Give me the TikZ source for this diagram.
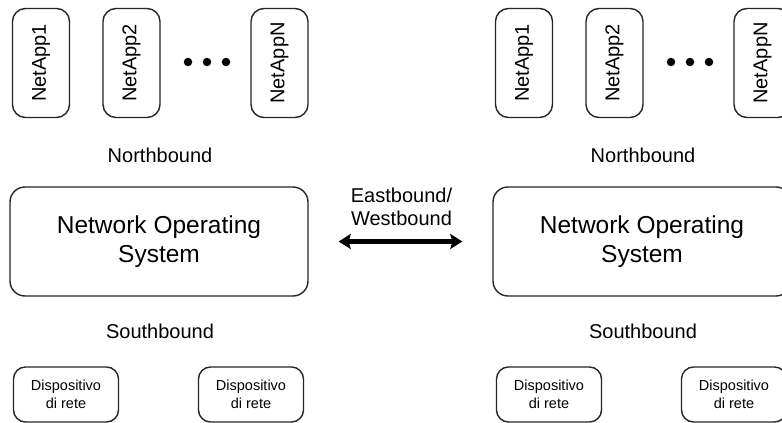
\documentclass[tikz,border=0pt]{standalone}
\usepackage{fontspec}
\setmainfont{Liberation Sans}
\usetikzlibrary{arrows.meta}
\begin{document}
\begin{tikzpicture}[x=1pt,y=-1pt,
  >={Stealth[length=12pt,width=15pt,inset=2pt]},
  box/.style={draw=black!85,line width=1.4pt,rounded corners=13pt,inner sep=0pt,align=center},
  appbox/.style={box,minimum width=57pt,minimum height=109pt},
  osbox/.style={box,rounded corners=15pt,minimum width=298pt,minimum height=109pt,
    font=\fontsize{24.5}{29}\selectfont},
  devbox/.style={box,rounded corners=12pt,minimum width=105pt,minimum height=55pt,
    font=\fontsize{14.5}{18}\selectfont},
  apptext/.style={rotate=90,font=\fontsize{20}{24}\selectfont},
  lbl/.style={font=\fontsize{20}{23}\selectfont,align=center,inner sep=0pt},
  dot/.style={circle,fill=black,inner sep=0pt,minimum size=8.5pt}]
\useasboundingbox (0,0) rectangle (782,423);
\fill[white] (0,0) rectangle (782,423);

% one controller stack, left copy at offset 0, right copy at offset 483
\foreach \o/\s in {0/L,483/R}{
  \node[appbox] (app1\s) at (41+\o,63) {};
  \node[apptext] at (app1\s) {NetApp1};
  \node[appbox] (app2\s) at (131.5+\o,63) {};
  \node[apptext] at (app2\s) {NetApp2};
  \node[appbox] (appN\s) at (279.5+\o,63) {};
  \node[apptext] at (appN\s) {NetAppN};
  \node[dot] (d1\s) at (188+\o,62) {};
  \node[dot] (d2\s) at (207+\o,62) {};
  \node[dot] (d3\s) at (226+\o,62) {};
  \node[lbl] (nb\s) at (160+\o,155) {Northbound};
  \node[osbox] (nos\s) at (159+\o,241.5) {Network Operating\\System};
  \node[lbl] (sb\s) at (160+\o,331) {Southbound};
  \node[devbox] (dev1\s) at (66+\o,394.5) {Dispositivo\\di rete};
  \node[devbox] (dev2\s) at (251+\o,394.5) {Dispositivo\\di rete};
}

% east-west link between the two operating systems
\node[lbl] (ew) at (401.5,206.5) {Eastbound/\\Westbound};
\draw[line width=5pt,<->,shorten <=30pt,shorten >=30pt] (nosL.east) -- (nosR.west);
\end{tikzpicture}
\end{document}
